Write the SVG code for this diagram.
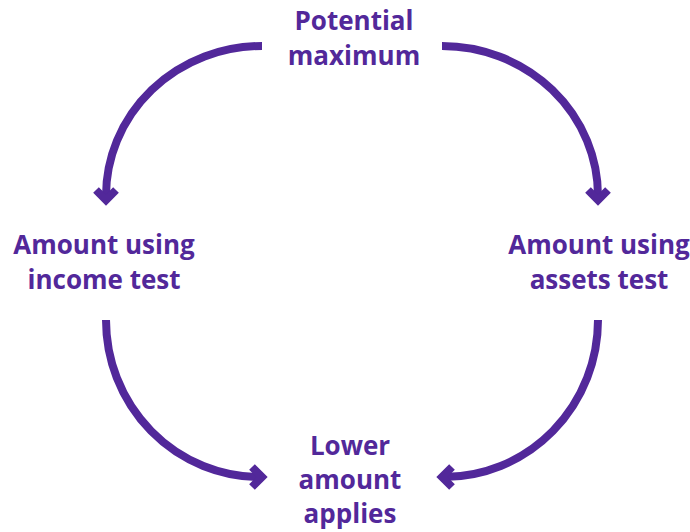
<svg xmlns="http://www.w3.org/2000/svg" width="690" height="532" viewBox="0 0 690 532">
<style>
.lbl{font-family:"Open Sans",Lato,"Liberation Sans",sans-serif;font-weight:700;font-size:26px;fill:#52289a;text-anchor:middle}
.arc{fill:none;stroke:#52289a;stroke-width:8}
.head{fill:none;stroke:#52289a;stroke-width:8;stroke-linejoin:miter}
</style>
<rect width="690" height="532" fill="#ffffff"/>
<g id="connectors">
<path class="arc" d="M262,46 A156,150 0 0 0 106,196"/>
<path class="head" d="M96,190 L106,200 L116,190"/>
<path class="arc" d="M442,46 A156,150 0 0 1 598,196"/>
<path class="head" d="M588,190 L598,200 L608,190"/>
<path class="arc" d="M106,320 A154,157 0 0 0 260,477"/>
<path class="head" d="M252,467 L262,477 L252,487"/>
<path class="arc" d="M598,320 A154,157 0 0 1 444,477"/>
<path class="head" d="M452,467 L442,477 L452,487"/>
</g>
<g id="node-top"><text class="lbl" x="354" y="30">Potential</text><text class="lbl" x="354" y="65">maximum</text></g>
<g id="node-left"><text class="lbl" x="104" y="254">Amount using</text><text class="lbl" x="104" y="289">income test</text></g>
<g id="node-right"><text class="lbl" x="599" y="254">Amount using</text><text class="lbl" x="599" y="289">assets test</text></g>
<g id="node-bottom"><text class="lbl" x="350" y="455">Lower</text><text class="lbl" x="350" y="489">amount</text><text class="lbl" x="350" y="523">applies</text></g>
</svg>
